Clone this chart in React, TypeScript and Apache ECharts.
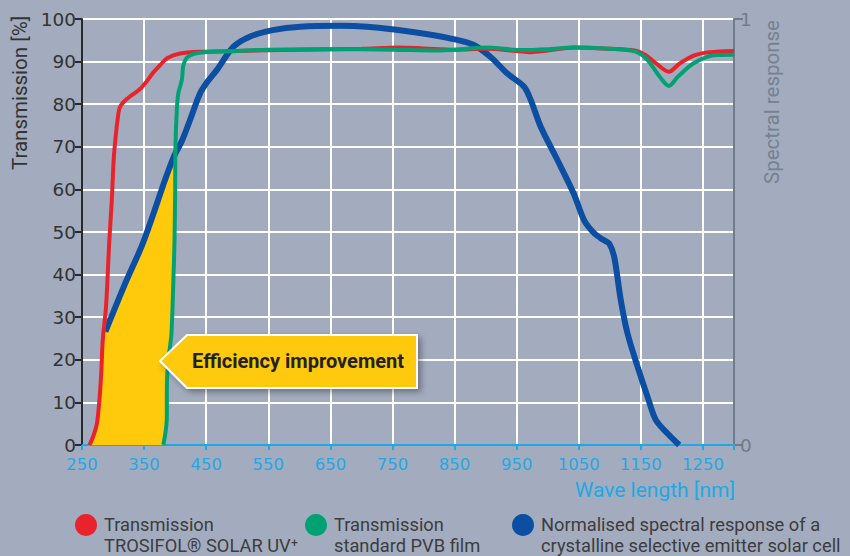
import React, { useEffect, useRef } from 'react';
import * as echarts from 'echarts';

// ---- data ----
const xTickValues = [250, 350, 450, 550, 650, 750, 850, 950, 1050, 1150, 1250];
const xTickMarks = [250, 350, 450, 550, 650, 750, 850, 950, 1050, 1150, 1250, 1300];
const rightTickValues = [0, 1];

// Transmission TROSIFOL SOLAR UV+ (nm, %)
const trosifol: number[][] = [
  [262, 0], [268, 2], [274, 5], [278, 10.5], [281, 17], [283.4, 24.6], [288.7, 32.5],
  [294, 48], [298, 57.5], [301, 67], [303.7, 71.6], [307, 76], [311, 79.3], [322, 81.2],
  [343, 83.5], [355, 85.5], [364, 87.3], [376, 89.2], [387, 90.8], [408, 91.9], [440, 92.3],
  [500, 92.5], [600, 92.8], [700, 93.0], [760, 93.3], [800, 93.1], [850, 92.8], [900, 93.0],
  [950, 92.5], [973, 92.2], [1000, 92.6], [1042, 93.3], [1100, 93.0], [1140, 92.6],
  [1158, 91.5], [1175, 89.5], [1195, 87.6], [1212, 89.5], [1235, 91.4], [1260, 92.2], [1300, 92.5]
];

// Transmission standard PVB film (nm, %)
const pvb: number[][] = [
  [381, 0], [384, 2.5], [386.5, 6], [386.8, 15], [390, 21], [394, 26], [397, 38], [399, 48],
  [400, 60], [400.5, 70], [402.7, 78.6], [405, 82.5], [410.8, 85.7], [413.4, 89.2], [421, 91.2],
  [440, 92.1], [500, 92.5], [550, 92.8], [650, 92.9], [750, 92.8], [820, 92.6], [870, 93.0],
  [900, 93.3], [960, 92.7], [1000, 92.9], [1042, 93.3], [1100, 93.0], [1140, 92.4], [1160, 90.5],
  [1180, 86.5], [1195, 84.3], [1210, 86.5], [1235, 89.6], [1268, 91.5], [1300, 91.6]
];

// Normalised spectral response (nm, 0..1)
const spectral: number[][] = [
  [287.6, 0.266], [319.8, 0.38], [346.8, 0.469], [365.6, 0.545], [381.7, 0.614], [397.9, 0.677],
  [411, 0.714], [424, 0.763], [440, 0.825], [451.6, 0.852], [467, 0.88], [494, 0.935], [521, 0.959],
  [557, 0.974], [601.6, 0.982], [666, 0.984], [709, 0.982], [749.5, 0.976], [816.6, 0.962],
  [854, 0.951], [881, 0.939], [908, 0.911], [935, 0.872], [962, 0.841], [972.6, 0.81], [988.7, 0.747],
  [1015.6, 0.669], [1042, 0.59], [1058.5, 0.528], [1075, 0.497], [1090, 0.481], [1099, 0.473],
  [1107, 0.442], [1117.7, 0.34], [1128.5, 0.262], [1144.7, 0.184], [1160.8, 0.113], [1174, 0.059],
  [1193, 0.027], [1211.8, 0]
];

const seriesNames = [
  'Transmission\nTROSIFOL® SOLAR UV⁺',
  'Transmission\nstandard PVB film',
  'Normalised spectral response of a\ncrystalline selective emitter solar cell'
];
const seriesColors = ['#e8232b', '#00a274', '#0b4ea2'];
const calloutText = 'Efficiency improvement';
const yAxisTitle = 'Transmission [%]';
const rightAxisTitle = 'Spectral response';
const xAxisTitle = 'Wave length [nm]';

const FONT = 'Roboto, "Noto Sans", sans-serif';
const NUMFONT = '"DejaVu Sans", Roboto, sans-serif';

// yellow region: bounded by red (left), blue (top), green (right)
function buildYellow(): number[][] {
  const blueStart = spectral[0][0];
  const left = trosifol.filter(p => p[0] < blueStart);
  const top = spectral.filter(p => p[0] < 399).map(p => [p[0], p[1] * 100]);
  const topEnd = top[top.length - 1][1];
  const right = pvb.filter(p => p[0] < 420 && p[1] < topEnd).slice().reverse();
  return [...left, ...top, ...right];
}
const yellowPoly = buildYellow();

export default function App() {
  const ref = useRef<HTMLDivElement>(null);
  useEffect(() => {
    if (!ref.current) return;
    const chart = echarts.init(ref.current, undefined, { renderer: 'svg' });
    const legendX = [86, 316, 523];
    const graphic: any[] = [];
    // axis titles
    graphic.push({
      type: 'text', x: 20, y: 93, rotation: Math.PI / 2,
      style: { text: yAxisTitle, fill: '#333', fontSize: 20.5, fontFamily: FONT, align: 'center', verticalAlign: 'middle' }
    });
    graphic.push({
      type: 'text', x: 772, y: 102, rotation: Math.PI / 2,
      style: { text: rightAxisTitle, fill: '#75828f', fontSize: 20.5, fontFamily: FONT, align: 'center', verticalAlign: 'middle' }
    });
    graphic.push({
      type: 'text', x: 735, y: 490,
      style: { text: xAxisTitle, fill: '#1ea9e6', fontSize: 21, fontFamily: FONT, align: 'right', verticalAlign: 'middle' }
    });
    // callout
    graphic.push({
      type: 'polygon', z: 100,
      shape: { points: [[160, 361], [187, 335], [417, 335], [417, 388], [187, 388]] },
      style: { fill: '#ffc90c', stroke: '#ffffff', lineWidth: 2, shadowBlur: 6, shadowOffsetX: 3, shadowOffsetY: 3, shadowColor: 'rgba(0,0,0,0.35)' }
    });
    graphic.push({
      type: 'text', z: 101, x: 298, y: 361,
      style: { text: calloutText, fill: '#222', fontSize: 20, fontWeight: 'bold', fontFamily: FONT, align: 'center', verticalAlign: 'middle' }
    });
    // legend
    seriesNames.forEach((name, i) => {
      graphic.push({ type: 'circle', shape: { cx: legendX[i], cy: 525, r: 11 }, style: { fill: seriesColors[i] } });
      graphic.push({
        type: 'text', x: legendX[i] + 18, y: 514,
        style: { text: name, fill: '#3d3d3d', fontSize: 18.3, lineHeight: 21, fontFamily: FONT, align: 'left', verticalAlign: 'top' }
      });
    });

    chart.setOption({
      animation: false,
      backgroundColor: '#a2acbe',
      grid: { left: 82, right: 116, top: 19, bottom: 111, containLabel: false },
      xAxis: {
        type: 'value', min: 250, max: 1300,
        axisLine: { show: true, lineStyle: { color: '#1ea9e6', width: 2 } },
        axisTick: { show: true, length: 5, customValues: xTickMarks, lineStyle: { color: '#1ea9e6', width: 2 } },
        axisLabel: {
          customValues: xTickValues, color: '#1ea9e6', fontSize: 16.5, fontFamily: NUMFONT, margin: 11,
          formatter: (v: number) => String(v)
        },
        splitLine: { show: true, lineStyle: { color: '#ffffff', width: 2 } }
      },
      yAxis: [
        {
          type: 'value', min: 0, max: 100, interval: 10,
          axisLine: { show: true, lineStyle: { color: '#2a2a2a', width: 2 } },
          axisTick: { show: true, length: 7, lineStyle: { color: '#2a2a2a', width: 2 } },
          axisLabel: { color: '#333', fontSize: 18.5, fontFamily: NUMFONT, margin: 6 },
          splitLine: { show: true, lineStyle: { color: '#ffffff', width: 2 } }
        },
        {
          type: 'value', min: 0, max: 1, position: 'right',
          axisLine: { show: true, lineStyle: { color: '#6f7d8a', width: 2 } },
          axisTick: { show: true, length: 9, customValues: rightTickValues, lineStyle: { color: '#6f7d8a', width: 2 } },
          axisLabel: { customValues: rightTickValues, color: '#6f7d8a', fontSize: 18.5, fontFamily: NUMFONT, margin: 6 },
          splitLine: { show: false }
        }
      ],
      series: [
        {
          type: 'custom', name: calloutText, silent: true, z: 1,
          data: [[yellowPoly[0][0], yellowPoly[0][1]]],
          renderItem: (_p: any, api: any) => ({
            type: 'polygon',
            shape: { points: yellowPoly.map(p => api.coord(p)) },
            style: { fill: '#ffc90c' }
          })
        },
        {
          type: 'line', name: seriesNames[2], yAxisIndex: 1, data: spectral, showSymbol: false,
          smooth: 0.3, z: 2, lineStyle: { color: seriesColors[2], width: 6 }, itemStyle: { color: seriesColors[2] }
        },
        {
          type: 'line', name: seriesNames[0], data: trosifol, showSymbol: false,
          smooth: 0.3, z: 3, lineStyle: { color: seriesColors[0], width: 4 }, itemStyle: { color: seriesColors[0] }
        },
        {
          type: 'line', name: seriesNames[1], data: pvb, showSymbol: false,
          smooth: 0.3, z: 4, lineStyle: { color: seriesColors[1], width: 4 }, itemStyle: { color: seriesColors[1] }
        }
      ],
      graphic
    });
    return () => chart.dispose();
  }, []);
  return <div ref={ref} style={{ position: 'absolute', left: 0, top: 0, width: 850, height: 556 }} />;
}
